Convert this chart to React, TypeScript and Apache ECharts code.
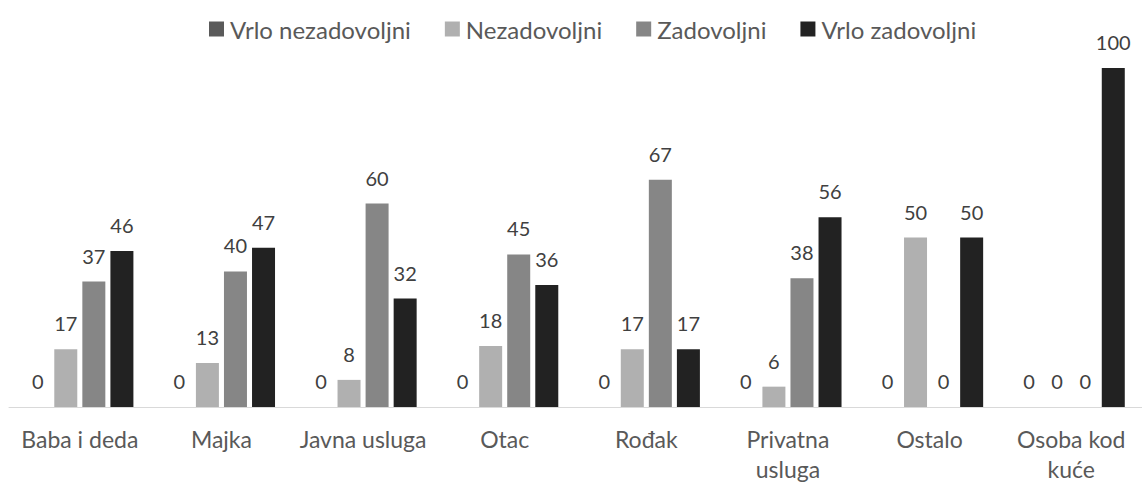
import React, { useEffect, useRef } from "react";
import * as echarts from "echarts";

const categories = ["Baba i deda", "Majka", "Javna usluga", "Otac", "Rođak", "Privatna usluga", "Ostalo", "Osoba kod kuće"];
const wrapped: Record<string, string> = { "Privatna usluga": "Privatna\nusluga", "Osoba kod kuće": "Osoba kod\nkuće" };
const seriesNames = ["Vrlo nezadovoljni", "Nezadovoljni", "Zadovoljni", "Vrlo zadovoljni"];
const vrloNezadovoljni = [0, 0, 0, 0, 0, 0, 0, 0];
const nezadovoljni = [17, 13, 8, 18, 17, 6, 50, 0];
const zadovoljni = [37, 40, 60, 45, 67, 38, 0, 0];
const vrloZadovoljni = [46, 47, 32, 36, 17, 56, 50, 100];
const colors = ["#5a5a5a", "#b0b0b0", "#868686", "#222222"];

const FONT = "Lato, 'DejaVu Sans', sans-serif";

export default function App() {
  const ref = useRef<HTMLDivElement>(null);
  useEffect(() => {
    document.body.style.margin = "0";
    const chart = echarts.init(ref.current!, null, { renderer: "svg" });
    const data = [vrloNezadovoljni, nezadovoljni, zadovoljni, vrloZadovoljni];
    chart.setOption({
      animation: false,
      textStyle: { fontFamily: FONT },
      legend: {
        top: 12,
        left: 204,
        itemWidth: 15,
        itemHeight: 15,
        itemGap: 34,
        icon: "rect",
        textStyle: { fontSize: 24, color: "#595959", fontFamily: FONT, padding: [0, 0, 0, 1] },
        data: seriesNames,
      },
      grid: { left: 9, right: -6, top: 68, bottom: 75, containLabel: false },
      xAxis: {
        type: "category",
        data: categories,
        axisLine: { lineStyle: { color: "#d9d9d9", width: 1 } },
        axisTick: { show: false },
        axisLabel: {
          interval: 0,
          color: "#595959",
          fontSize: 23,
          lineHeight: 30,
          margin: 17,
          fontFamily: FONT,
          formatter: (v: string) => wrapped[v] ?? v,
        },
      },
      yAxis: {
        type: "value",
        min: 0,
        max: 100,
        show: false,
        splitLine: { show: false },
      },
      series: seriesNames.map((name, i) => ({
        name,
        type: "bar",
        data: data[i],
        barWidth: 23,
        barGap: "22%",
        itemStyle: { color: colors[i] },
        label: {
          show: true,
          position: "top",
          distance: 16,
          color: "#404040",
          fontSize: 20,
          fontFamily: FONT,
        },
      })),
    });
    return () => chart.dispose();
  }, []);
  return <div ref={ref} style={{ width: 1142, height: 484 }} />;
}
